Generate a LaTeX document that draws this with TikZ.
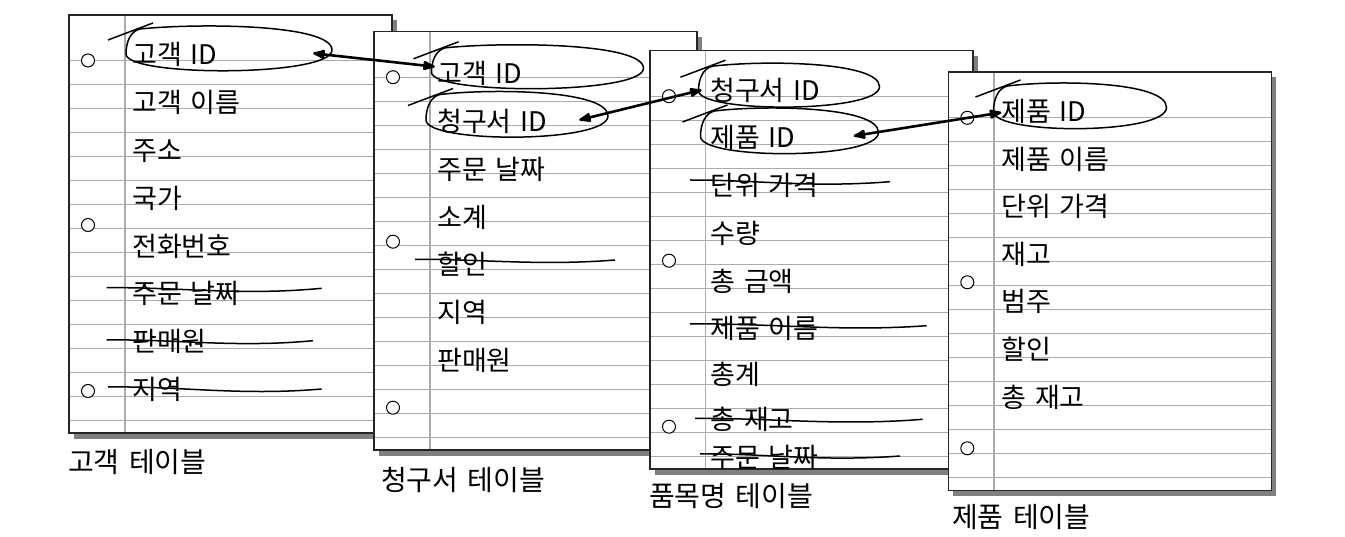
\documentclass[tikz,border=0pt]{standalone}
\usepackage{fontspec}
\setmainfont{Noto Sans CJK KR}[WordSpace=1.5]
\usetikzlibrary{arrows.meta,shapes.geometric}

\tikzset{
    ruled/.style={draw=black!33, line width=1.3pt},
    paper/.style={draw=black!85, line width=1.6pt},
    papershadow/.style={fill=black!50},
    hole/.style={draw=black, fill=white, line width=1pt},
    field/.style={anchor=base west, inner sep=0pt, font=\fontsize{27}{27}\selectfont},
    tablename/.style={field, font=\fontsize{28}{28}\selectfont},
    lassobox/.style={ellipse, inner sep=0pt},
    pen/.style={line width=1.5pt},
    link/.style={line width=2.6pt, {Latex[round,length=16pt,width=11pt]}-{Latex[round,length=16pt,width=11pt]}},
}

\newcommand\notepaper[3]{%
    \fill[papershadow] ({#1+5},{#2+5}) rectangle ({#1+328},{#2+424});
    \fill[white] (#1,#2) rectangle ({#1+323},{#2+418});
    \foreach \j in {0,...,15}
        \draw[ruled] (#1,{#2+45.5+24*\j}) -- ({#1+323},{#2+45.5+24*\j});
    \draw[ruled] ({#1+#3},#2) -- ({#1+#3},{#2+418});
    \draw[paper] (#1,#2) rectangle ({#1+323},{#2+418});
    \foreach \h in {45.5,210,376}
        \draw[hole] ({#1+19},{#2+\h}) circle[radius=6.5pt];
}

% hand-drawn loop round a key: centre x, centre y, half width, half height, name
\newcommand\lassoloop[5]{%
    \node[lassobox, minimum width={2*#3pt}, minimum height={2*#4pt}] (#5) at (#1,#2) {};
    \draw[pen] ({#1-#3+14},{#2-#4+1})
        .. controls ({#1-0.3*#3},{#2-#4-5}) and ({#1+#3},{#2-#4-4}) .. ({#1+#3},#2)
        .. controls ({#1+#3},{#2+#4+5}) and ({#1-#3},{#2+#4+5}) .. ({#1-#3},{#2+4})
        .. controls ({#1-#3},{#2-0.4*#4}) and ({#1-#3+5},{#2-#4+3}) .. ({#1-#3+14},{#2-#4+1});
    \draw[pen] ({#1-#3-18},{#2-#4+12}) -- ({#1-#3+27},{#2-#4-5});
}

\begin{document}
\begin{tikzpicture}[x=1pt, y=-1pt]
    \useasboundingbox (0,0) rectangle (1345,537);

    \notepaper{69}{15}{56}
    \node[field] (cust-id) at (132,65) {고객 ID};
    \node[field] (cust-name) at (132,112.8) {고객 이름};
    \node[field] (cust-addr) at (132,160.6) {주소};
    \node[field] (cust-country) at (132,208.4) {국가};
    \node[field] (cust-phone) at (132,256.2) {전화번호};
    \node[field] (cust-date) at (132,304) {주문 날짜};
    \node[field] (cust-seller) at (132,351.8) {판매원};
    \node[field] (cust-region) at (132,399.6) {지역};
    \node[tablename] (cust-cap) at (68,472) {고객 테이블};
    \lassoloop{229}{50}{103}{22}{cust-loop}
    \draw[pen] (106.7,287.7) .. controls (180,287) and (240,296) .. (321.7,288.3);
    \draw[pen] (106.7,340) .. controls (175,339) and (235,348) .. (313,340.7);
    \draw[pen] (108,387) .. controls (180,386) and (240,396) .. (321.7,389);

    \notepaper{374}{31.7}{56}
    \node[field] (inv-cust) at (437,84) {고객 ID};
    \node[field] (inv-id) at (437,131.7) {청구서 ID};
    \node[field] (inv-date) at (437,179.4) {주문 날짜};
    \node[field] (inv-sub) at (437,227.1) {소계};
    \node[field] (inv-disc) at (437,274.8) {할인};
    \node[field] (inv-region) at (437,322.5) {지역};
    \node[field] (inv-seller) at (437,370.2) {판매원};
    \node[tablename] (inv-cap) at (381,490) {청구서 테이블};
    \lassoloop{537.5}{68.3}{106}{21.5}{inv-cust-loop}
    \lassoloop{517}{116}{91}{22.5}{inv-id-loop}
    \draw[pen] (415,259.3) .. controls (480,259) and (540,266) .. (615,260);

    \notepaper{650}{50.7}{55.7}
    \node[field] (item-inv) at (710,101) {청구서 ID};
    \node[field] (item-prod) at (710,148) {제품 ID};
    \node[field] (item-price) at (710,196) {단위 가격};
    \node[field] (item-qty) at (710,244) {수량};
    \node[field] (item-amount) at (710,292) {총 금액};
    \node[field] (item-name) at (710,339) {제품 이름};
    \node[field] (item-total) at (710,385) {총계};
    \node[field] (item-stock) at (710,429) {총 재고};
    \node[field] (item-date) at (710,467) {주문 날짜};
    \node[tablename] (item-cap) at (649,506) {품목명 테이블};
    \lassoloop{789}{86.7}{90.5}{21.5}{item-inv-loop}
    \lassoloop{789.5}{132.5}{89}{22.5}{item-prod-loop}
    \draw[pen] (690,180) .. controls (760,180) and (810,188) .. (890,181.7);
    \draw[pen] (690,324) .. controls (770,323) and (840,332) .. (926.7,325.7);
    \draw[pen] (695,418.3) .. controls (770,418) and (840,426) .. (922.7,419.3);
    \draw[pen] (700,454) .. controls (760,453) and (820,462) .. (900,456);

    \notepaper{948.3}{72.3}{45.7}
    \node[field] (prod-id) at (1001,122) {제품 ID};
    \node[field] (prod-name) at (1001,169.5) {제품 이름};
    \node[field] (prod-price) at (1001,217) {단위 가격};
    \node[field] (prod-stock) at (1001,264.5) {재고};
    \node[field] (prod-cat) at (1001,312) {범주};
    \node[field] (prod-disc) at (1001,359.5) {할인};
    \node[field] (prod-total) at (1001,407) {총 재고};
    \node[tablename] (prod-cap) at (952,527) {제품 테이블};
    \lassoloop{1080}{107.5}{86.5}{22.5}{prod-id-loop}

    \draw[link] ([xshift=-19pt,yshift=-3.3pt]cust-loop.east) -- ([xshift=3.5pt,yshift=1.6pt]inv-cust-loop.west);
    \draw[link] ([xshift=-29pt,yshift=-4pt]inv-id-loop.east) -- ([xshift=3.2pt,yshift=-3.3pt]item-inv-loop.west);
    \draw[link] ([xshift=-25pt,yshift=-3.5pt]item-prod-loop.east) -- ([xshift=8pt,yshift=-5pt]prod-id-loop.west);
\end{tikzpicture}
\end{document}
